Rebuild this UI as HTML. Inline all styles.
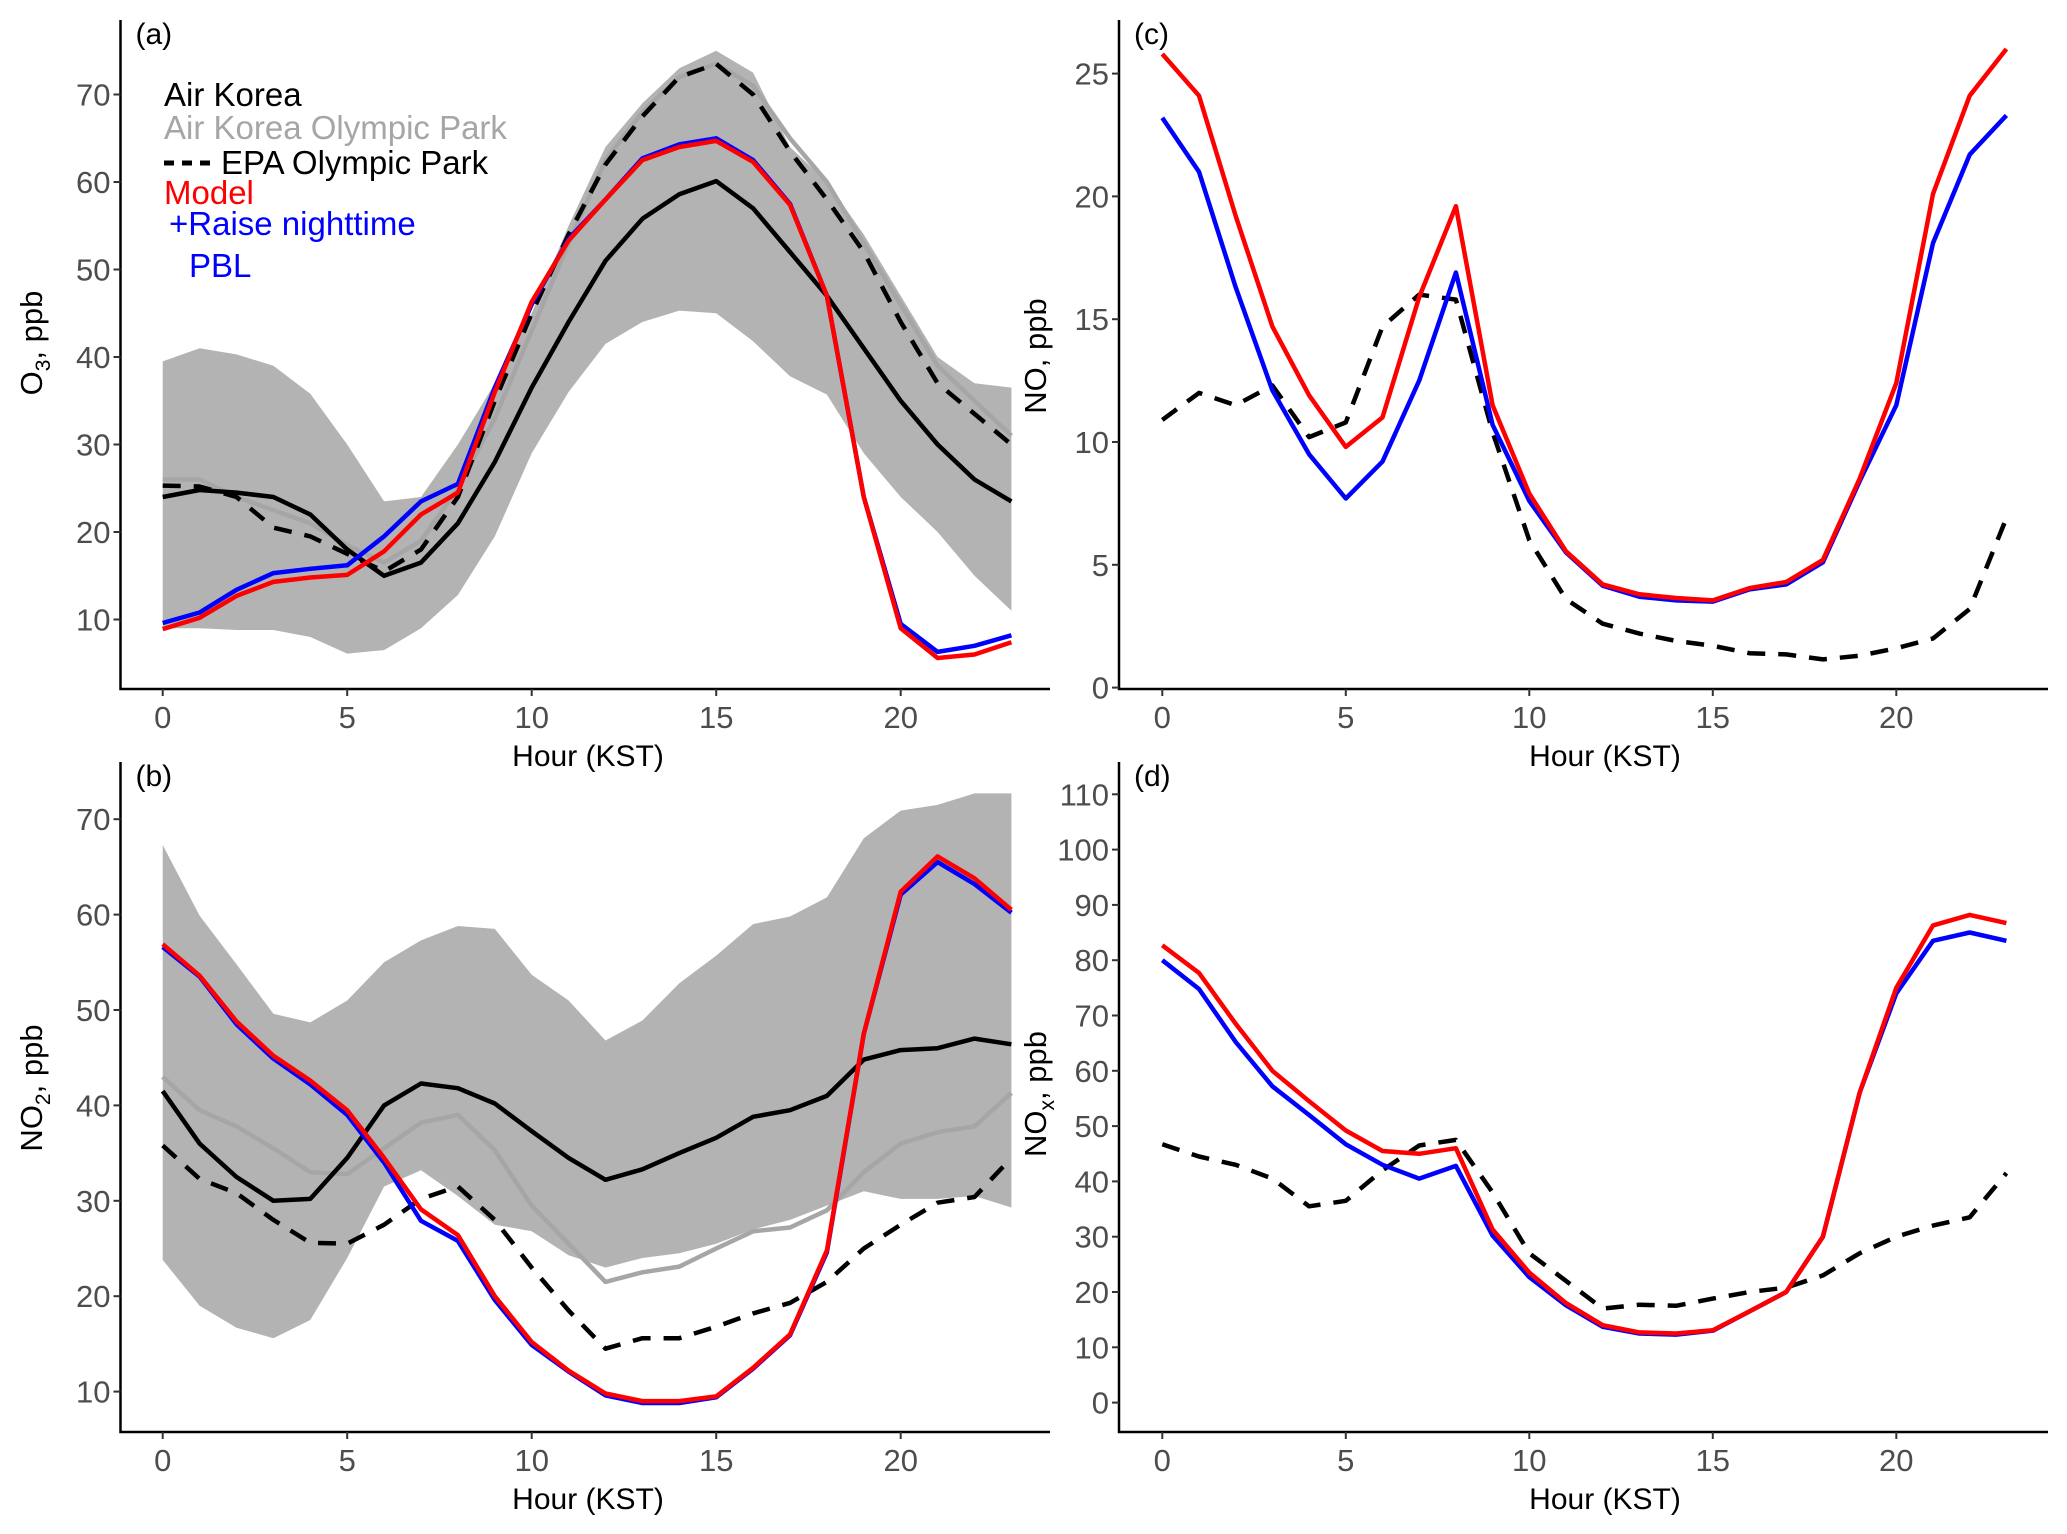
<!DOCTYPE html>
<html><head><meta charset="utf-8"><style>
html,body{margin:0;padding:0;background:#fff}
svg{display:block;font-family:"Liberation Sans",sans-serif}
</style></head><body>
<svg id="fig" width="2067" height="1534" viewBox="0 0 2067 1534"></svg>
<script>
const hours=[0,1,2,3,4,5,6,7,8,9,10,11,12,13,14,15,16,17,18,19,20,21,22,23];
// (a) O3
const o3AirKorea=[24,24.8,24.5,24,22,18,15,16.5,21,28,36.5,44,51,55.8,58.6,60.1,57,52,47,41,35,30,26,23.5];
const o3Olympic=[26,26,24,22.5,21,18.5,16.5,19,25,33,43,53,62.5,68,72,73.5,71,65,60,53,46,39,35,31];
const o3Epa=[25.3,25.2,24,20.5,19.5,17.5,15.5,18,24,35,45,54,62,67.5,72,73.5,70,63.5,58,52,44,37,33.5,30];
const o3Upper=[39.5,41,40.3,39,35.8,30,23.5,24,30,37,45,55,64,69,73,75,72.5,64,60,54,47,40,37,36.5];
const o3Lower=[9,9,8.8,8.8,8,6.1,6.5,9,12.8,19.5,29,36,41.5,44,45.3,45,41.8,37.8,35.7,29,24,20,15,11];
const o3Model=[8.9,10.2,12.7,14.3,14.8,15.1,17.8,22,24.5,36,46.3,53.3,58,62.5,64,64.7,62.3,57.4,47,24,9,5.6,6,7.4];
const o3Pbl=[9.6,10.8,13.4,15.3,15.8,16.2,19.5,23.5,25.5,36.5,46,53.5,58,62.7,64.3,65,62.5,57.5,47,24,9.5,6.3,7,8.2];
// (b) NO2
const no2AirKorea=[41.5,36,32.5,30,30.2,34.5,40,42.3,41.8,40.2,37.3,34.5,32.2,33.3,35,36.6,38.8,39.5,41,44.8,45.8,46,47,46.4];
const no2Olympic=[43,39.5,37.8,35.5,33,32.8,35.5,38.2,39,35.3,29.5,25.5,21.5,22.5,23.1,25,26.8,27.2,29,33,36,37.2,37.8,41.3];
const no2Epa=[35.8,32.3,30.8,28,25.6,25.5,27.5,30.2,31.5,28,23,18.5,14.5,15.6,15.6,16.8,18.2,19.3,21.5,25,27.5,29.8,30.4,34.5];
const no2Upper=[67.3,59.9,54.8,49.6,48.7,51,55,57.3,58.8,58.5,53.7,51,46.8,48.9,52.8,55.7,59,59.8,61.8,68,70.9,71.5,72.7,72.7];
const no2Lower=[23.8,19,16.7,15.6,17.5,24,31.5,33.2,30.5,27.5,26.8,24.3,23,24,24.5,25.5,27,28,29.5,31,30.2,30.2,30.5,29.3];
const no2Model=[56.9,53.6,48.8,45.2,42.6,39.5,34.5,29.1,26.4,20,15.2,12.2,9.8,9,9,9.5,12.5,16,24.8,47.5,62.4,66.1,63.8,60.5];
const no2Pbl=[56.6,53.5,48.5,44.9,42.2,39,34,27.9,25.8,19.6,14.9,12.1,9.6,8.8,8.8,9.4,12.4,15.9,24.6,47.5,62.1,65.5,63.2,60.2];
// (c) NO
const noEpa=[10.9,12.0,11.5,12.3,10.2,10.8,14.7,16.0,15.8,10.4,6.0,3.6,2.6,2.2,1.9,1.7,1.4,1.35,1.15,1.3,1.6,2.0,3.2,6.9];
const noModel=[25.8,24.1,19.2,14.7,11.9,9.8,11.0,15.9,19.6,11.5,7.9,5.55,4.2,3.8,3.65,3.55,4.05,4.3,5.2,8.5,12.4,20.1,24.1,26.0];
const noPbl=[23.2,21.0,16.3,12.1,9.5,7.7,9.2,12.5,16.9,10.7,7.6,5.5,4.15,3.7,3.55,3.5,4.0,4.2,5.1,8.4,11.5,18.1,21.7,23.3];
// (d) NOx
const noxEpa=[46.7,44.5,43,40.5,35.5,36.5,42,46.5,47.5,38,27,22,17,17.7,17.5,18.8,20,20.8,23,27,30,32,33.5,41.5];
const noxModel=[82.7,77.7,68.5,60,54.5,49.2,45.5,45,46,31.3,23.5,18,14,12.7,12.5,13.1,16.5,20,30,56,75,86.3,88.2,86.7];
const noxPbl=[80,74.8,65.2,57.2,52,46.7,43,40.5,42.8,30.2,22.7,17.6,13.7,12.5,12.3,13,16.5,20,30,56,74,83.5,85,83.5];
// ticks
const xTicks=[0,5,10,15,20];
const o3Ticks=[10,20,30,40,50,60,70];
const no2Ticks=[10,20,30,40,50,60,70];
const noTicks=[0,5,10,15,20,25];
const noxTicks=[0,10,20,30,40,50,60,70,80,90,100,110];

const NS="http://www.w3.org/2000/svg";
const svg=document.getElementById('fig');
function mk(tag,attrs,parent){const e=document.createElementNS(NS,tag);for(const k in attrs)e.setAttribute(k,attrs[k]);(parent||svg).appendChild(e);return e;}

function panel(cfg){
  const g=mk('g',{});
  
  
  const X=h=>cfg.x0+h*cfg.dx;
  const Y=v=>cfg.yRef+(cfg.vRef-v)*cfg.dy;
  const pts=arr=>arr.map((v,i)=>X(hours[i]).toFixed(1)+','+Y(v).toFixed(1)).join(' ');
  if(cfg.upper){
    const up=cfg.upper.map((v,i)=>X(hours[i]).toFixed(1)+','+Y(v).toFixed(1));
    const lo=cfg.lower.map((v,i)=>X(hours[i]).toFixed(1)+','+Y(v).toFixed(1)).reverse();
    const r=mk('polygon',{points:up.concat(lo).join(' '),fill:'#b3b3b3'},g);
    
    
  }
  for(const s of cfg.series){
    const l=mk('polyline',{points:pts(s.data),fill:'none',stroke:s.color,'stroke-width':4.5,'stroke-linejoin':'round'},g);
    if(s.dash)l.setAttribute('stroke-dasharray','18,13');
    
    
  }
  const ax=mk('path',{d:`M${cfg.axL},${cfg.top} V${cfg.bot} H${cfg.axR}`,stroke:'#000','stroke-width':2.5,fill:'none'},g);
  
  
  for(const t of xTicks){
    mk('line',{x1:X(t),x2:X(t),y1:cfg.bot,y2:cfg.bot+7,stroke:'#333','stroke-width':2},g);
    const tx=mk('text',{x:X(t),y:cfg.bot+39,'font-size':31,fill:'#4d4d4d','text-anchor':'middle'},g);
    tx.textContent=t;
    
    
  }
  for(const t of cfg.yTicks){
    mk('line',{x1:cfg.axL-7,x2:cfg.axL,y1:Y(t),y2:Y(t),stroke:'#333','stroke-width':2},g);
    const tx=mk('text',{x:cfg.axL-10,y:Y(t)+11,'font-size':31,fill:'#4d4d4d','text-anchor':'end'},g);
    tx.textContent=t;
    
    
  }
  const xt=mk('text',{x:cfg.xtX,y:cfg.bot+77,'font-size':30,fill:'#000','text-anchor':'middle'},g);
  xt.textContent='Hour (KST)';
  
  
  const yt=mk('text',{transform:`translate(${cfg.ytX},${cfg.ytY}) rotate(-90)`,'font-size':31,fill:'#000','text-anchor':'middle'},g);
  yt.innerHTML=cfg.ytitle;
  
  
  const pl=mk('text',{x:cfg.axL+15,y:cfg.top+24,'font-size':30,fill:'#000'},g);
  pl.textContent=cfg.label;
  
  
}

panel({name:'panel-a-o3',x0:162.7,dx:36.9,yRef:94.5,vRef:70,dy:8.75,axL:120.5,axR:1050,top:20,bot:689,yTicks:o3Ticks,ytX:42,ytY:343,xtX:588,
  ytitle:'O<tspan font-size="21" dy="8">3</tspan><tspan dy="-8">, ppb</tspan>',label:'(a)',upper:o3Upper,lower:o3Lower,
  series:[{name:'air-korea-olympic-line',data:o3Olympic,color:'#a6a6a6'},{name:'air-korea-line',data:o3AirKorea,color:'#000'},
  {name:'epa-olympic-line',data:o3Epa,color:'#000',dash:1},{name:'pbl-line',data:o3Pbl,color:'#0000ff'},{name:'model-line',data:o3Model,color:'#ff0000'}]});
panel({name:'panel-b-no2',x0:162.7,dx:36.9,yRef:819.2,vRef:70,dy:9.54,axL:120.5,axR:1050,top:762,bot:1432,yTicks:no2Ticks,ytX:42,ytY:1088,xtX:588,
  ytitle:'NO<tspan font-size="21" dy="8">2</tspan><tspan dy="-8">, ppb</tspan>',label:'(b)',upper:no2Upper,lower:no2Lower,
  series:[{name:'air-korea-olympic-line',data:no2Olympic,color:'#a6a6a6'},{name:'air-korea-line',data:no2AirKorea,color:'#000'},
  {name:'epa-olympic-line',data:no2Epa,color:'#000',dash:1},{name:'pbl-line',data:no2Pbl,color:'#0000ff'},{name:'model-line',data:no2Model,color:'#ff0000'}]});
panel({name:'panel-c-no',x0:1162.3,dx:36.7,yRef:73.6,vRef:25,dy:24.56,axL:1119,axR:2048,top:20,bot:689,yTicks:noTicks,ytX:1046,ytY:356,xtX:1605,
  ytitle:'NO, ppb',label:'(c)',
  series:[{name:'epa-olympic-line',data:noEpa,color:'#000',dash:1},{name:'pbl-line',data:noPbl,color:'#0000ff'},{name:'model-line',data:noModel,color:'#ff0000'}]});
panel({name:'panel-d-nox',x0:1162.3,dx:36.7,yRef:1402.6,vRef:0,dy:5.53,axL:1119,axR:2048,top:762,bot:1432,yTicks:noxTicks,ytX:1046,ytY:1094,xtX:1605,
  ytitle:'NO<tspan font-size="21" dy="8">x</tspan><tspan dy="-8">, ppb</tspan>',label:'(d)',
  series:[{name:'epa-olympic-line',data:noxEpa,color:'#000',dash:1},{name:'pbl-line',data:noxPbl,color:'#0000ff'},{name:'model-line',data:noxModel,color:'#ff0000'}]});

const lg=mk('g',{'font-size':33});


const items=[['Air Korea','#000',164,106],['Air Korea Olympic Park','#a6a6a6',164,139],['EPA Olympic Park','#000',221,174],['Model','#ff0000',164,204],['+Raise nighttime','#0000ff',169,235],['PBL','#0000ff',189,277]];
for(const it of items){
  const t=mk('text',{x:it[2],y:it[3],fill:it[1]},lg);
  t.textContent=it[0];
  
  
}
const ld=mk('line',{x1:164,x2:210,y1:163,y2:163,stroke:'#000','stroke-width':5,'stroke-dasharray':'10,8'},lg);


</script>
</body></html>
